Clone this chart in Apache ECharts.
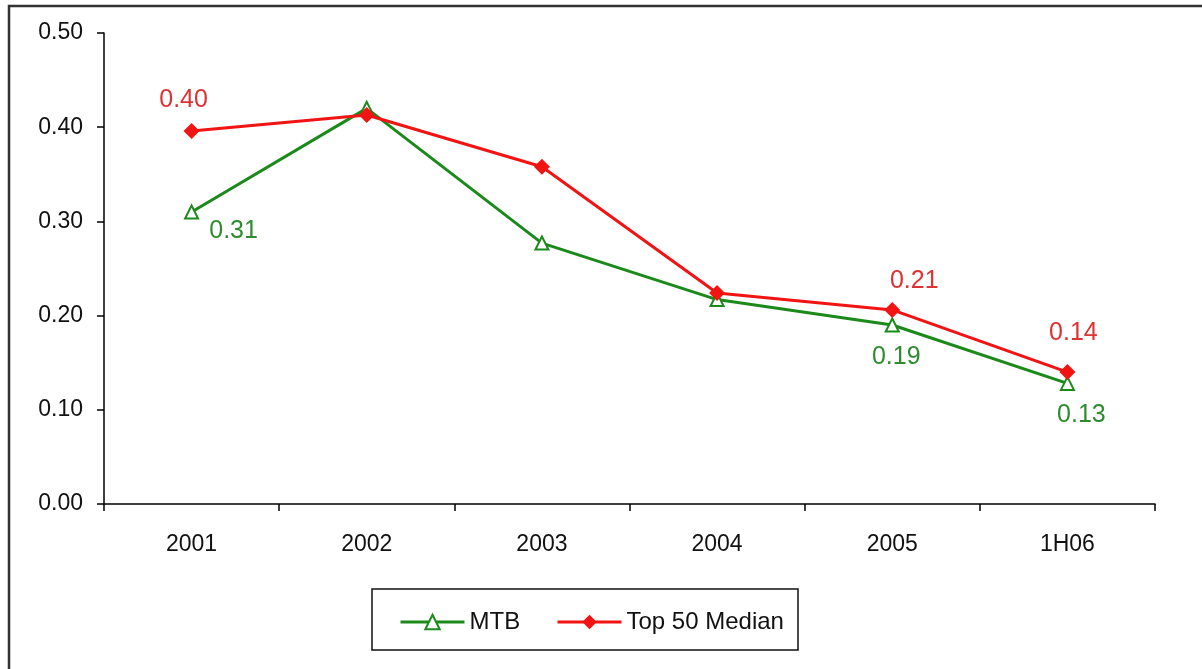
<!DOCTYPE html>
<html>
<head>
<meta charset="utf-8">
<style>
  html, body { margin: 0; padding: 0; background: #ffffff; }
  #chart { width: 1202px; height: 669px; }
</style>
<script src="https://cdn.jsdelivr.net/npm/echarts@6/dist/echarts.min.js"></script>
</head>
<body>
<div id="chart"></div>
<script>
// Periods on the category axis
const categories = ['2001', '2002', '2003', '2004', '2005', '1H06'];
// Series values
const mtbValues = [0.31, 0.42, 0.277, 0.217, 0.19, 0.128];
const top50Values = [0.396, 0.413, 0.358, 0.224, 0.206, 0.14];
// Which points carry a value label
const mtbLabelled = [true, false, false, false, true, true];
const top50Labelled = [true, false, false, false, true, true];
// Value axis ticks
const yTicks = [0, 0.1, 0.2, 0.3, 0.4, 0.5];

const FONT = '"Liberation Sans", Arial, sans-serif';
const GREEN = '#1b8a1b';
const RED = '#f21313';
const GREEN_TEXT = '#2e8c2e';
const RED_TEXT = '#de3232';

// label offsets relative to each marker centre
const mtbOffsets = [[42, 19], null, null, null, [4, 32], [14, 32]];
const top50Offsets = [[-8, -31], null, null, null, [22, -29], [6, -39]];

function buildData(values, labelled, offsets, color) {
  return values.map((v, i) => ({
    value: v,
    label: {
      show: labelled[i],
      position: 'inside',
      offset: offsets[i] || [0, 0],
      color: color,
      fontFamily: FONT,
      fontSize: 25,
      formatter: (p) => p.value.toFixed(2)
    }
  }));
}

const legendCommon = {
  top: 605,
  itemWidth: 64, itemHeight: 18, itemGap: 0,
  lineStyle: { width: 3 },
  textStyle: { color: '#111', fontFamily: FONT, fontSize: 24 }
};

const chart = echarts.init(document.getElementById('chart'), null, { renderer: 'canvas' });

chart.setOption({
  animation: false,
  backgroundColor: '#ffffff',
  grid: { left: 104, right: 47, top: 33, bottom: 165, containLabel: false },
  xAxis: {
    type: 'category',
    data: categories,
    boundaryGap: true,
    axisLine: { lineStyle: { color: '#000', width: 1.5 } },
    axisTick: { show: true, length: 7, lineStyle: { color: '#000', width: 1.5 } },
    axisLabel: { color: '#111', fontFamily: FONT, fontSize: 23, margin: 29 },
    splitLine: { show: false }
  },
  yAxis: {
    type: 'value',
    min: yTicks[0],
    max: yTicks[yTicks.length - 1],
    interval: yTicks[1] - yTicks[0],
    axisLine: { show: true, lineStyle: { color: '#000', width: 1.5 } },
    axisTick: { show: true, length: 7, lineStyle: { color: '#000', width: 1.5 } },
    axisLabel: {
      color: '#111', fontFamily: FONT, fontSize: 23, margin: 21,
      formatter: (v) => v.toFixed(2)
    },
    splitLine: { show: false }
  },
  legend: [
    Object.assign({ data: ['MTB'], left: 394 }, legendCommon),
    Object.assign({ data: ['Top 50 Median'], left: 551 }, legendCommon)
  ],
  graphic: [
    {
      type: 'rect',
      shape: { x: 9, y: 6, width: 1220, height: 700 },
      style: { fill: 'none', stroke: '#333', lineWidth: 2.5 },
      silent: true
    },
    {
      type: 'rect',
      shape: { x: 372, y: 589, width: 426, height: 61 },
      style: { fill: 'none', stroke: '#111', lineWidth: 1.5 },
      silent: true
    }
  ],
  series: [
    {
      name: 'MTB',
      type: 'line',
      data: buildData(mtbValues, mtbLabelled, mtbOffsets, GREEN_TEXT),
      symbol: 'triangle',
      symbolSize: 13,
      lineStyle: { color: GREEN, width: 3 },
      itemStyle: { color: '#ffffff', borderColor: GREEN, borderWidth: 2 }
    },
    {
      name: 'Top 50 Median',
      type: 'line',
      data: buildData(top50Values, top50Labelled, top50Offsets, RED_TEXT),
      symbol: 'diamond',
      symbolSize: 16,
      lineStyle: { color: RED, width: 3 },
      itemStyle: { color: RED, borderColor: RED, borderWidth: 0 }
    }
  ]
});
</script>
</body>
</html>
